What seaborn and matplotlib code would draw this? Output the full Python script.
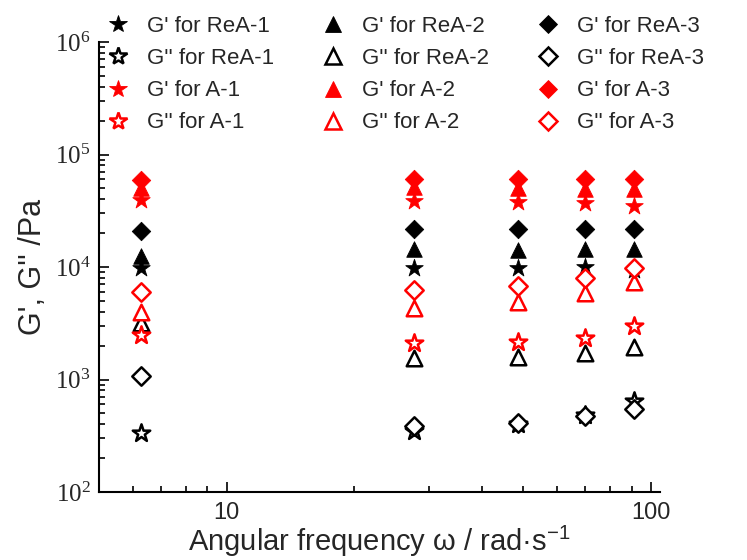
import matplotlib
matplotlib.use("Agg")
import matplotlib.pyplot as plt
from matplotlib.lines import Line2D
from matplotlib.ticker import FixedLocator, FuncFormatter, LogLocator, NullFormatter
import numpy as np
import pandas as pd
import seaborn as sns

# Angular frequency (rad/s)
omega = [6.28, 27.6, 48.5, 69.8, 91.0]

# Storage modulus G' (Pa)
g1_rea1 = [9800, 9800, 9700, 10000, 9500]
g1_rea2 = [12500, 14500, 14200, 14500, 14500]
g1_rea3 = [20900, 21800, 21800, 21800, 21800]
g1_a1 = [39400, 38600, 38000, 37000, 35000]
g1_a2 = [50000, 51000, 50000, 49500, 49500]
g1_a3 = [59300, 61000, 60000, 61000, 61000]

# Loss modulus G'' (Pa)
g2_rea1 = [334, 345, 400, 480, 640]
g2_rea2 = [3170, 1550, 1600, 1720, 1950]
g2_rea3 = [1070, 390, 410, 470, 550]
g2_a1 = [2480, 2110, 2150, 2340, 2990]
g2_a2 = [4000, 4320, 4900, 5900, 7360]
g2_a3 = [6000, 6250, 6800, 7960, 9700]

labels = [
    "G' for ReA-1", "G'' for ReA-1", "G' for A-1", "G'' for A-1",
    "G' for ReA-2", "G'' for ReA-2", "G' for A-2", "G'' for A-2",
    "G' for ReA-3", "G'' for ReA-3", "G' for A-3", "G'' for A-3",
]
values = [
    g1_rea1, g2_rea1, g1_a1, g2_a1,
    g1_rea2, g2_rea2, g1_a2, g2_a2,
    g1_rea3, g2_rea3, g1_a3, g2_a3,
]

# marker style per sample
shape = {"1": ("*", 175), "2": ("^", 125), "3": ("D", 88)}

records = []
for lab, vals in zip(labels, values):
    for w, g in zip(omega, vals):
        records.append({"omega": w, "modulus": g, "series": lab})
df = pd.DataFrame(records)

sns.set_theme(style="ticks")
plt.rcParams["font.family"] = ["Liberation Sans", "DejaVu Sans"]

fig = plt.figure(figsize=(7.47, 5.6), dpi=100)
ax = fig.add_axes([99 / 747, 68 / 560, 561 / 747, 450 / 560])

# draw order: black samples first, then red; stars, triangles, diamonds
draw_order = []
for group in ("ReA", "A"):
    for idx in ("1", "2", "3"):
        for kind in ("G'", "G''"):
            draw_order.append(f"{kind} for {group}-{idx}")

handles = {}
for z, lab in enumerate(draw_order):
    color = "black" if "ReA" in lab else "red"
    filled = lab.startswith("G' ")
    marker, size = shape[lab[-1]]
    sub = df[df["series"] == lab]
    sns.scatterplot(
        data=sub, x="omega", y="modulus", ax=ax, marker=marker, s=size,
        facecolor=color if filled else "white", edgecolor=color,
        linewidth=0.6 if filled else 1.8, legend=False, zorder=3 + z,
    )
    ms = np.sqrt(size)
    handles[lab] = Line2D(
        [], [], linestyle="none", marker=marker, markersize=ms,
        markerfacecolor=color if filled else "white", markeredgecolor=color,
        markeredgewidth=0.6 if filled else 1.8,
    )

ax.set_xscale("log")
ax.set_yscale("log")
ax.set_xlim(5, 105)
ax.set_ylim(1e2, 1e6)

for side in ("top", "right"):
    ax.spines[side].set_visible(False)
for side in ("left", "bottom"):
    ax.spines[side].set_linewidth(1.5)
    ax.spines[side].set_color("black")

ax.xaxis.set_major_locator(FixedLocator([10, 100]))
ax.xaxis.set_major_formatter(FuncFormatter(lambda v, p: f"{v:g}"))
ax.xaxis.set_minor_locator(LogLocator(base=10, subs=np.arange(2, 10)))
ax.xaxis.set_minor_formatter(NullFormatter())
ax.yaxis.set_major_locator(LogLocator(base=10, numticks=10))
ax.yaxis.set_major_formatter(
    FuncFormatter(lambda v, p: r"$\mathdefault{10^{%d}}$" % round(np.log10(v)))
)
ax.yaxis.set_minor_locator(LogLocator(base=10, subs=np.arange(2, 10), numticks=20))
ax.yaxis.set_minor_formatter(NullFormatter())

ax.tick_params(which="both", direction="in", color="black", width=1.2)
ax.tick_params(which="major", length=7)
ax.tick_params(which="minor", length=4)
ax.tick_params(axis="x", labelsize=17, pad=7)
ax.tick_params(axis="y", labelsize=18, pad=6)
for t in ax.get_yticklabels():
    t.set_fontfamily("Liberation Serif")

ax.set_xlabel("Angular frequency ω / rad·s$^{\\mathregular{-1}}$", fontsize=21, labelpad=0)
ax.set_ylabel("G', G'' /Pa", fontsize=22, labelpad=5)

fig.legend(
    [handles[l] for l in labels], labels, ncol=3, loc="upper left",
    bbox_to_anchor=(96 / 747, 1 - 5 / 560), frameon=False, fontsize=16,
    borderpad=0, handlelength=1.0, handletextpad=0.8, columnspacing=2.15,
    labelspacing=0.5,
)

fig.savefig("out.png", dpi=100)
